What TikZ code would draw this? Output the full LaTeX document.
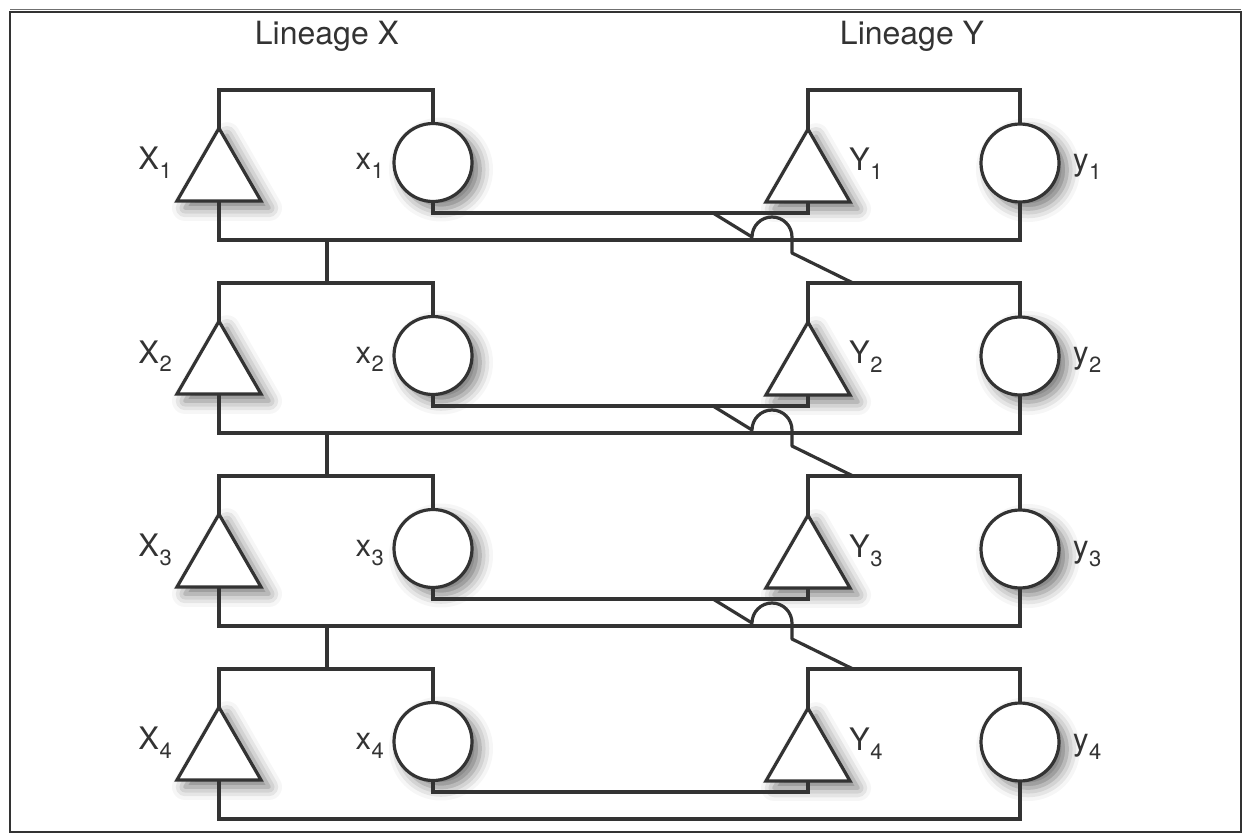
\documentclass[tikz,border=0pt]{standalone}
\usepackage{fontspec}
\setmainfont{TeX Gyre Heros}
\usetikzlibrary{shapes.geometric,shadows.blur}
\definecolor{ink}{HTML}{333333}
\newcommand\lbsub[2]{#1\kern0.5pt\raisebox{-9pt}{\fontsize{22}{22}\selectfont #2}}
\begin{document}
\begin{tikzpicture}[x=1pt,y=1pt,
  link/.style={draw=ink,line width=3.2pt,line join=miter},
  shad/.style={blur shadow={shadow xshift=8pt,shadow yshift=-7pt,shadow blur radius=13pt,shadow opacity=55}},
  tri/.style={regular polygon,regular polygon sides=3,minimum size=97pt,inner sep=0pt,outer sep=0pt,draw=ink,fill=white,line width=3.2pt,shad},
  circ/.style={circle,minimum size=78pt,inner sep=0pt,outer sep=0pt,draw=ink,fill=white,line width=3.2pt,shad},
  lab/.style={font=\fontsize{31}{31}\selectfont,text=ink,inner sep=0pt},
  title/.style={font=\fontsize{32}{32}\selectfont,text=ink,inner sep=0pt}]
\useasboundingbox (0,0) rectangle (1243,-834);
\draw[draw=ink,line width=2.2pt] (10,-12) rectangle (1241,-832);
\draw[draw=ink!70,line width=1.5pt] (10,-9.5) -- (1241,-9.5);
\node[title,anchor=base] (tX) at (327,-45) {Lineage X};
\node[title,anchor=base] (tY) at (912,-45) {Lineage Y};
\foreach \k/\n in {0/1,1/2,2/3,3/4}{
  \pgfmathsetmacro{\off}{193*\k}
  \node[tri]  (X\n) at (219,-176.7-\off) {};
  \node[circ] (x\n) at (433,-162.5-\off) {};
  \node[tri]  (Y\n) at (808,-177.7-\off) {};
  \node[circ] (y\n) at (1020,-163-\off) {};
  \node[lab,anchor=base east] (lX\n) at (172,-170-\off) {\lbsub{X}{\n}};
  \node[lab,anchor=base east] (lx\n) at (384,-170-\off) {\lbsub{x}{\n}};
  \node[lab,anchor=base west] (lY\n) at (849,-171-\off) {\lbsub{Y}{\n}};
  \node[lab,anchor=base west] (ly\n) at (1073,-171-\off) {\lbsub{y}{\n}};
  \coordinate (topX\n) at (219,-90-\off);
  \coordinate (topY\n) at (808,-90-\off);
  \coordinate (botX\n) at (219,-240-\off);
  \coordinate (mid\n) at (433,-213-\off);
  \draw[link] (X\n.north) -- (topX\n) -| (x\n.north);
  \draw[link] (Y\n.north) -- (topY\n) -| (y\n.north);
  \draw[link] (X\n.south) -- (botX\n) -| (y\n.south);
  \draw[link] (x\n.south) -- (mid\n) -| (Y\n.south);
}
\foreach \k/\n/\m in {0/1/2,1/2/3,2/3/4}{
  \pgfmathsetmacro{\off}{193*\k}
  \coordinate (va\n) at (327,-240-\off);
  \coordinate (vb\n) at (327,-283-\off);
  \draw[link] (va\n) -- (vb\n);
  \coordinate (ca\n) at (713,-213-\off);
  \coordinate (cb\n) at (752,-237-\off);
  \coordinate (cc\n) at (792,-253-\off);
  \coordinate (cd\n) at (853,-283-\off);
  \draw[link,line join=round] (ca\n) -- (cb\n) arc[start angle=180,end angle=0,radius=20pt] -- (cc\n) -- (cd\n);
}
\end{tikzpicture}
\end{document}
